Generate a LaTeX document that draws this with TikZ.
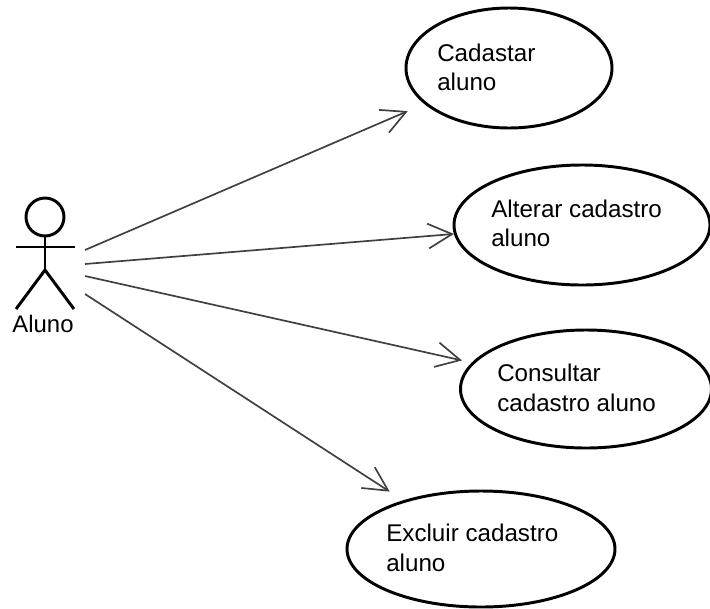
\documentclass[tikz,border=0pt]{standalone}
\usepackage{fontspec}
\setmainfont{Liberation Sans}
\usetikzlibrary{arrows.meta,shapes.geometric}

\begin{document}
\begin{tikzpicture}[
        UseCase/.style={
            ellipse,
            draw,
            line width=2.1pt,
            inner sep=0pt
        },
        UseText/.style={
            anchor=west,
            align=left,
            inner sep=0pt,
            font=\fontsize{17.2}{21}\selectfont
        },
        ActorLine/.style={
            line width=2.1pt
        },
        UseArrow/.style={
            -{Straight Barb[length=0.6cm,width=0.62cm]},
            line width=1.2pt,
            draw=black!75
        }
    ]
    \useasboundingbox (0,0) rectangle (17.75,-15.2);
    
    % Actor
    \node[circle,draw,ActorLine,inner sep=0pt,outer sep=0pt,minimum size=0.95cm] (Head) at (1.125,-5.425) {};
    \draw[ActorLine] (Head.south)--++(270:0.275)coordinate (Neck)--++(270:0.575)coordinate (Hip);
    \draw[ActorLine] (Neck)--++(180:0.725)coordinate (ArmL);
    \draw[ActorLine] (Neck)--++(0:0.75)coordinate (ArmR);
    \draw[ActorLine] (Hip)--++(233.4:1.215)coordinate (FootL);
    \draw[ActorLine] (Hip)--++(-53.4:1.215)coordinate (FootR);
    \node[font=\fontsize{17}{21}\selectfont,inner sep=0pt] (Aluno) at (1.075,-8.1) {Aluno};
    
    % Use cases
    \node[UseCase,minimum width=5.15cm,minimum height=3cm] (Cadastar) at (12.725,-1.7) {};
    \node[UseText] (CadastarText) at (10.925,-1.68) {Cadastar\\aluno};
    
    \node[UseCase,minimum width=6.4cm,minimum height=3cm] (Alterar) at (14.55,-5.625) {};
    \node[UseText] (AlterarText) at (12.275,-5.58) {Alterar cadastro\\aluno};
    
    \node[UseCase,minimum width=6.275cm,minimum height=2.95cm] (Consultar) at (14.65,-9.725) {};
    \node[UseText] (ConsultarText) at (12.425,-9.7) {Consultar\\cadastro aluno};
    
    \node[UseCase,minimum width=6.7cm,minimum height=2.9cm] (Excluir) at (12.025,-13.725) {};
    \node[UseText] (ExcluirText) at (9.65,-13.7) {Excluir cadastro\\aluno};
    
    % Arrows
    \coordinate (StartA) at (2.125,-6.25);
    \coordinate (StartB) at (2.125,-6.6);
    \coordinate (StartC) at (2.125,-6.9);
    \coordinate (StartD) at (2.125,-7.35);
    \draw[UseArrow,shorten >=0.45cm] (StartA)--(Cadastar.203.5);
    \draw[UseArrow] (StartB)--(Alterar.184.5);
    \draw[UseArrow,shorten >=0.25cm] (StartC)--(Consultar.167);
    \draw[UseArrow,shorten >=0.4cm] (StartD)--(Excluir.148.2);
    
\end{tikzpicture}
\end{document}
